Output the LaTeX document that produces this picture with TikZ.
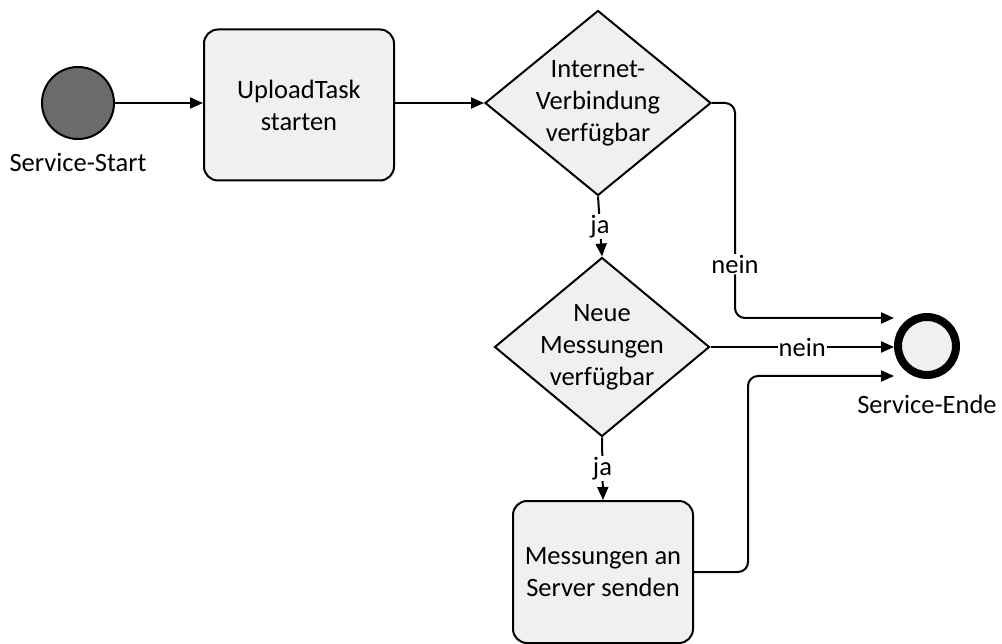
\documentclass[tikz,border=0pt]{standalone}
\usepackage{fontspec}
\setmainfont{Carlito}
\usetikzlibrary{shapes.geometric,arrows.meta}
\definecolor{shapefill}{HTML}{F0F0F0}
\definecolor{startfill}{HTML}{6B6B6B}
\begin{document}
\begin{tikzpicture}[x=1pt,y=-1pt,
  every node/.style={font=\fontsize{26.5}{32}\selectfont},
  task/.style={draw, line width=2pt, rounded corners=14pt, fill=shapefill,
    align=center, inner sep=0pt},
  % negative inner sep keeps the diamond size fixed by the minimum sizes
  decision/.style={draw, line width=2pt, diamond, fill=shapefill,
    align=center, inner sep=-30pt, aspect=1.2},
  flow/.style={line width=2pt, -{Triangle[length=13pt,width=11pt]}},
  lbl/.style={fill=white, inner sep=1pt}]
\useasboundingbox (0,0) rectangle (1002,644);

% events
\node[circle, draw, line width=2pt, fill=startfill, minimum size=72pt,
  label={[label distance=10pt]below:Service-Start}] (start) at (78,103) {};
\node[circle, draw, line width=8pt, fill=shapefill, minimum size=58pt,
  label={[label distance=13pt]below:Service-Ende}] (stop) at (927,346) {};

% activities
\node[task, minimum width=190pt, minimum height=151pt] (upload) at (299,105)
  {UploadTask\\starten};
\node[task, minimum width=180pt, minimum height=142pt] (send) at (603,572)
  {Messungen an\\Server senden};

% gateways
\node[decision, minimum width=226pt, minimum height=185pt] (net) at (598,103)
  {Internet-\\Verbindung\\verfügbar};
\node[decision, minimum width=215pt, minimum height=179pt] (new) at (602,347)
  {Neue\\Messungen\\verfügbar};

% sequence flows
\draw[flow] (start.east) -- (start.east -| upload.west);
\draw[flow] (net.west -| upload.east) -- (net.west);
\draw[flow] (net.south) -- node[lbl]{ja} (new.north);
\draw[flow] (new.south) -- node[lbl]{ja} (send.north);
\draw[flow, rounded corners=10pt] (net.east) -- (735,103)
  -- node[lbl, pos=0.75]{nein} (735,318) -- ([yshift=28pt]stop.west);
\draw[flow] (new.east) -- node[lbl]{nein} (new.east -| stop.west);
\draw[flow, rounded corners=10pt] (send.east) -- (748,572)
  -- (748,376) -- ([yshift=-30pt]stop.west);
\end{tikzpicture}
\end{document}
